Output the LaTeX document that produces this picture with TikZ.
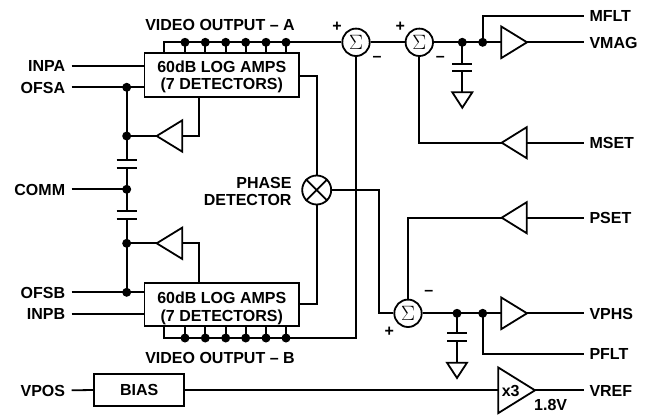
\documentclass[tikz,border=0pt]{standalone}
\usepackage{fontspec}
\setmainfont{Liberation Sans}
\newfontfamily\sigmafont{Liberation Serif}
\usetikzlibrary{calc}
\tikzset{
  x=1pt,y=-1pt,
  wire/.style={line width=1.8pt,line join=miter},
  every node/.style={font=\fontsize{16pt}{18pt}\selectfont\bfseries,text=black},
  pinl/.style={anchor=east,inner xsep=6.4pt,inner ysep=0pt,text height=11.5pt,text depth=0pt},
  pinr/.style={anchor=west,inner xsep=5.3pt,inner ysep=0pt,text height=11.5pt,text depth=0pt},
  txt/.style={inner sep=0pt,text height=11.5pt,text depth=0pt},
  blockbox/.style={draw,wire,inner sep=0pt,align=center},
  sumnode/.style={draw,wire,circle,minimum size=27.4pt,inner sep=0pt,font=\sigmafont\fontsize{20pt}{20pt}\selectfont},
  junction/.style={circle,fill=black,minimum size=9pt,inner sep=0pt},
}
\newcommand{\ampsym}[5]{% name, tip x, back x, y, half height
  \coordinate (#1-tip) at (#2,#4);
  \coordinate (#1-back) at (#3,#4);
  \draw[wire,line join=miter] (#2,#4) -- (#3,#4-#5) -- (#3,#4+#5) -- cycle;
}
\newcommand{\capsym}[4]{% name, x, y1, y2
  \coordinate (#1-a) at (#2,#3);
  \coordinate (#1-b) at (#2,#4);
  \draw[wire] (#2-10,#3) -- (#2+10,#3);
  \draw[wire] (#2-10,#4) -- (#2+10,#4);
}
\newcommand{\gndsym}[4]{% name, x, top y, bottom y
  \coordinate (#1) at (#2,#3);
  \draw[wire] (#2-10,#3) -- (#2+10,#3) -- (#2,#4) -- cycle;
}
\begin{document}
\begin{tikzpicture}
\useasboundingbox (0,0) rectangle (646,415);

% blocks
\node[blockbox,minimum width=154.5pt,minimum height=43.5pt] (boxA) at (221.8,75) {};
\node[txt] (boxAa) at (221.8,66.5) {60dB LOG AMPS};
\node[txt] (boxAb) at (221.8,84) {(7 DETECTORS)};
\node[blockbox,minimum width=154.5pt,minimum height=43pt] (boxB) at (221.8,304.8) {};
\node[txt] (boxBa) at (221.8,297.7) {60dB LOG AMPS};
\node[txt] (boxBb) at (221.8,316) {(7 DETECTORS)};
\node[blockbox,minimum width=89.7pt,minimum height=31.4pt] (bias) at (139.2,390) {BIAS};

% summers and multiplier
\node[sumnode] (s1) at (356,42.3) {$\Sigma$};
\node[sumnode] (s2) at (419.3,42.3) {$\Sigma$};
\node[sumnode] (s3) at (408,313.3) {$\Sigma$};
\node[draw,wire,circle,minimum size=29pt,inner sep=0pt] (mult) at (316.7,190) {};
\draw[wire] (mult.45) -- (mult.225) (mult.135) -- (mult.315);

% left labels
\node[pinl] (INPA) at (71.7,65.7) {INPA};
\node[pinl] (OFSA) at (71.7,87.3) {OFSA};
\node[pinl] (COMM) at (71.7,189.3) {COMM};
\node[pinl] (OFSB) at (71.7,292.3) {OFSB};
\node[pinl] (INPB) at (71.7,314) {INPB};
\node[pinl] (VPOS) at (71.7,390.3) {VPOS};
% right labels
\node[pinr] (MFLT) at (584,15.7) {MFLT};
\node[pinr] (VMAG) at (584,42.3) {VMAG};
\node[pinr] (MSET) at (584,142.7) {MSET};
\node[pinr] (PSET) at (584,217.7) {PSET};
\node[pinr] (VPHS) at (584,313.3) {VPHS};
\node[pinr] (PFLT) at (584,353.7) {PFLT};
\node[pinr] (VREF) at (584,390.3) {VREF};
% other text
\node[txt] (vidA) at (220,24.3) {VIDEO OUTPUT – A};
\node[txt] (vidB) at (220,357.7) {VIDEO OUTPUT – B};
\node[txt,anchor=east] (ph1) at (291.7,182.7) {PHASE};
\node[txt,anchor=east] (ph2) at (291.7,200) {DETECTOR};
\node[txt] (p1) at (337,25.7) {+};
\node[txt] (p2) at (400.3,25.7) {+};
\node[txt] (m1) at (377,55.5) {–};
\node[txt] (m2) at (440.3,55.5) {–};
\node[txt] (m3) at (428.7,290) {–};
\node[txt] (p3) at (389.3,331) {+};
\node[txt] (vv) at (550.7,404.3) {1.8V};

% amplifiers
\ampsym{ampA}{156.7}{182.3}{136}{15.7}
\ampsym{ampB}{156.7}{182.3}{243.3}{15.7}
\ampsym{ampM}{527}{501.3}{42.3}{15.8}
\ampsym{ampS}{501.7}{526.7}{142.7}{15.5}
\ampsym{ampP}{501.7}{526.7}{217.7}{15.5}
\ampsym{ampH}{527}{501.3}{313.3}{15.8}
\ampsym{ampR}{535}{498.3}{390.3}{22.8}
\node[txt] (x3) at (510.7,391) {x3};

% capacitors and grounds
\capsym{c1}{126.7}{160.3}{167.7}
\capsym{c2}{126.7}{210.7}{218.7}
\capsym{c3}{462.3}{64}{71}
\capsym{c4}{457}{333.3}{341}
\gndsym{g3}{462.3}{92.3}{107.7}
\gndsym{g4}{457}{362.7}{378}

% junction dots
\foreach \n/\x/\y in {ja1/185/42.3,ja2/205.3/42.3,ja3/225.7/42.3,ja4/245.7/42.3,ja5/266/42.3,ja6/286/42.3,
  jb1/185/338,jb2/205.3/338,jb3/225.7/338,jb4/245.7/338,jb5/266/338,jb6/286/338,
  jofa/126.7/87.3,jamA/126.7/136,jcom/126.7/189.3,jamB/126.7/243.3,jofb/126.7/292.3,
  jm1/462.3/42.3,jm2/482.7/42.3,jp1/457/313.3,jp2/482.7/313.3}
  \node[junction] (\n) at (\x,\y) {};

\coordinate (busA) at (164,42.3);
\coordinate (busB) at (164,338);

% video buses
\draw[wire] (busA |- boxA.north) -- (busA) -- (s1.west);
\draw[wire] (busB |- boxB.south) -- (busB) -- (busB -| s1) -- (s1.south);
\foreach \n in {ja1,ja2,ja3,ja4,ja5,ja6} \draw[wire] (\n.center) -- (\n.center |- boxA.north);
\foreach \n in {jb1,jb2,jb3,jb4,jb5,jb6} \draw[wire] (\n.center) -- (\n.center |- boxB.south);

% inputs
\draw[wire] (INPA.east) -- (INPA.east -| boxA.west);
\draw[wire] (OFSA.east) -- (OFSA.east -| boxA.west);
\draw[wire] (INPB.east) -- (INPB.east -| boxB.west);
\draw[wire] (OFSB.east) -- (OFSB.east -| boxB.west);
\draw[wire] (COMM.east) -- (jcom.center);
\draw[wire] (VPOS.east) -- (bias.west);
\draw[wire] (bias.east) -- (bias.east -| ampR-back);

% left column
\draw[wire] (jofa.center) -- (c1-a);
\draw[wire] (c1-b) -- (c2-a);
\draw[wire] (c2-b) -- (jofb.center);

% offset feedback
\draw[wire] (jamA.center) -- (ampA-tip);
\draw[wire] (ampA-back) -- (199,136) -- (199,136 |- boxA.south);
\draw[wire] (jamB.center) -- (ampB-tip);
\draw[wire] (ampB-back) -- (199,243.3) -- (199,243.3 |- boxB.north);

% detector to multiplier
\draw[wire] (boxA.east |- 0,75.7) -- (mult.north |- 0,75.7) -- (mult.north);
\draw[wire] (boxB.east |- 0,303.7) -- (mult.south |- 0,303.7) -- (mult.south);
\draw[wire] (mult.east) -- (379,190) -- (379,313.3) -- (s3.west);

% magnitude path
\draw[wire] (s1.east) -- (s2.west);
\draw[wire] (s2.east) -- (ampM-back);
\draw[wire] (ampM-tip) -- (VMAG.west);
\draw[wire] (jm1.center) -- (c3-a);
\draw[wire] (c3-b) -- (g3);
\draw[wire] (jm2.center) -- (jm2.center |- MFLT.west) -- (MFLT.west);
\draw[wire] (s2.south) -- (s2.south |- ampS-tip) -- (ampS-tip);
\draw[wire] (ampS-back) -- (MSET.west);

% phase path
\draw[wire] (s3.east) -- (ampH-back);
\draw[wire] (ampH-tip) -- (VPHS.west);
\draw[wire] (jp1.center) -- (c4-a);
\draw[wire] (c4-b) -- (g4);
\draw[wire] (jp2.center) -- (jp2.center |- PFLT.west) -- (PFLT.west);
\draw[wire] (s3.north) -- (s3.north |- ampP-tip) -- (ampP-tip);
\draw[wire] (ampP-back) -- (PSET.west);

% reference
\draw[wire] (ampR-tip) -- (VREF.west);
\end{tikzpicture}
\end{document}
